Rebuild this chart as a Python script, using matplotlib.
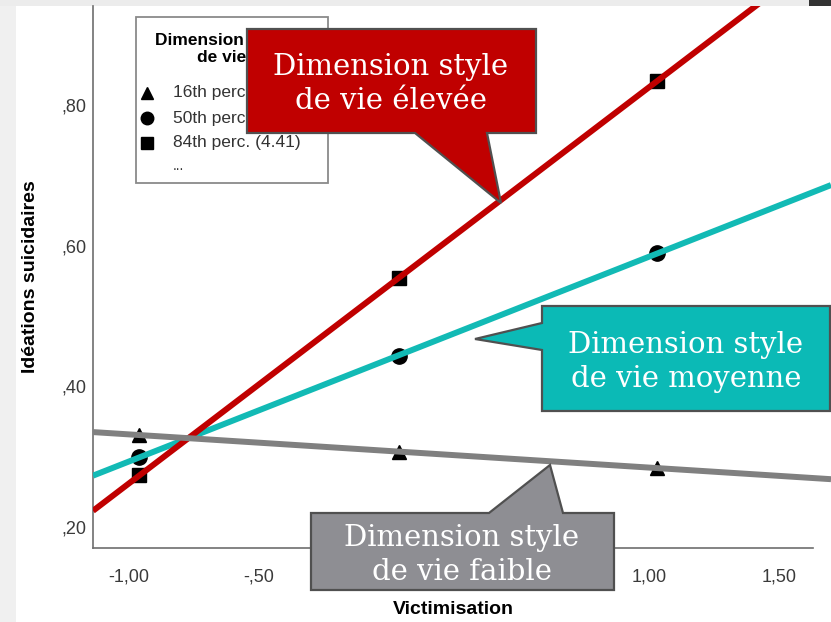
import numpy as np
import matplotlib
matplotlib.use("Agg")
import matplotlib.pyplot as plt
from matplotlib.patches import Polygon, Rectangle
from matplotlib.lines import Line2D
from matplotlib.ticker import FuncFormatter

# data (Victimisation at -1 SD, mean, +1 SD)
victim = [-0.96, 0.04, 1.03]
faible = [0.331, 0.307, 0.284]     # 16th perc.
moyenne = [0.300, 0.443, 0.590]    # 50th perc.
elevee = [0.274, 0.554, 0.835]     # 84th perc.
legend_labels = ["16th perc. (2.35)", "50th perc. (3.38)", "84th perc. (4.41)"]
x_ticks = [-1.0, -0.5, 0.0, 0.5, 1.0, 1.5]
y_ticks = [0.2, 0.4, 0.6, 0.8]

W, H = 831, 622
fig = plt.figure(figsize=(W / 100, H / 100), dpi=100)
fig.patch.set_facecolor("white")


def fx(x):
    return x / W


def fy(y):
    return 1 - y / H


def pts(seq):
    return [(fx(a), fy(b)) for a, b in seq]


ax = fig.add_axes([fx(93), fy(548), (W - 93) / W, (548 - 6) / H])
ax.patch.set_alpha(0)
ax.set_xlim(-1.1385, 1.70)
ax.set_ylim(0.1701, 0.9416)
for s in ["top", "right"]:
    ax.spines[s].set_visible(False)
for s in ["left", "bottom"]:
    ax.spines[s].set_color("#6e6e6e")
    ax.spines[s].set_linewidth(1.2)
ax.spines["bottom"].set_bounds(-1.1385, 1.631)


def fr(v, pos):
    s = "%.2f" % v
    s = s.replace("0.", ".", 1) if s.lstrip("-").startswith("0.") else s
    return s.replace(".", ",")


ax.set_xticks(x_ticks)
ax.set_yticks(y_ticks)
ax.xaxis.set_major_formatter(FuncFormatter(fr))
ax.yaxis.set_major_formatter(FuncFormatter(fr))
ax.tick_params(length=0, labelsize=13, labelcolor="#3a3a3a")
ax.tick_params(axis="x", pad=15)
ax.tick_params(axis="y", pad=5)
for lab in ax.get_xticklabels() + ax.get_yticklabels():
    lab.set_fontfamily("Liberation Sans")

# fit lines (thin black, SPSS) and the thick coloured overlays
groups = [
    (faible, "^", "#808080"),
    (moyenne, "o", "#12bab5"),
    (elevee, "s", "#c00000"),
]
xs_fit = np.array([-1.1385, 1.631])
xs_over = np.array([-1.1385, 1.70])
for yv, mk, col in groups:
    ax.plot(victim, yv, linestyle="none", marker=mk, color="black",
            markersize=10 if mk != "o" else 11, zorder=3)
    b, a = np.polyfit(victim, yv, 1)
    ax.plot(xs_fit, a + b * xs_fit, color="black", lw=0.8, zorder=2)
order = {"#12bab5": 4, "#c00000": 5, "#808080": 6}
for yv, mk, col in groups:
    b, a = np.polyfit(victim, yv, 1)
    ax.plot(xs_over, a + b * xs_over, color=col, lw=4.3, zorder=order[col],
            solid_capstyle="butt")

ax.set_xlabel("Victimisation", fontsize=14, fontweight="bold",
              family="Liberation Sans", va="center")
ax.xaxis.set_label_coords((453 - 93) / (W - 93), -(609 - 548) / (548 - 6))
ax.set_ylabel("Idéations suicidaires", fontsize=14, fontweight="bold",
              family="Liberation Sans", va="center")
ax.yaxis.set_label_coords(-(93 - 31) / (W - 93), (548 - 277) / (548 - 6))

# screenshot frame (light gray strips, behind everything)
fig.add_artist(Rectangle((0, 0), fx(16), 1, transform=fig.transFigure,
                         facecolor="#f0f0f0", edgecolor="none", zorder=-2))
fig.add_artist(Rectangle((0, fy(6)), 1, 6 / H, transform=fig.transFigure,
                         facecolor="#ececec", edgecolor="none", zorder=-2))
fig.add_artist(Rectangle((fx(809), fy(6)), 22 / W, 6 / H, transform=fig.transFigure,
                         facecolor="#333333", edgecolor="none", zorder=-1))

# SPSS legend
fig.add_artist(Rectangle((fx(136), fy(183)), (328 - 136) / W, (183 - 17) / H,
                         transform=fig.transFigure, facecolor="white",
                         edgecolor="#8a8a8a", lw=1.3, zorder=2))
fig.text(fx(222), fy(49), "Dimension style\nde vie", ha="center", va="center",
         fontsize=12.5, fontweight="bold", family="Liberation Sans",
         linespacing=1.15, color="black", zorder=3)
for i, (lab, (yv, mk, col)) in enumerate(zip(legend_labels, groups)):
    yy = 93 + 25 * i
    fig.add_artist(Line2D([fx(147)], [fy(yy)], marker=mk, color="black",
                          markersize=9, linestyle="none",
                          transform=fig.transFigure, zorder=3))
    fig.text(fx(173), fy(yy), lab, ha="left", va="center", fontsize=12.5,
             family="Liberation Sans", color="#333333", zorder=3)
fig.text(fx(173), fy(166), "...", ha="left", va="center", fontsize=10,
         family="Liberation Sans", color="#333333", zorder=3)

# callouts
callouts = [
    ([(247, 29), (536, 29), (536, 133), (487, 133), (501, 203), (415, 133), (247, 133)],
     "#c00000", (391, 84), "Dimension style\nde vie élevée"),
    ([(542, 306), (830, 306), (830, 411), (542, 411), (542, 350), (475, 339), (542, 323)],
     "#0bbab6", (686, 362), "Dimension style\nde vie moyenne"),
    ([(311, 513), (489, 513), (550, 465), (563, 513), (614, 513), (614, 590), (311, 590)],
     "#8e8e93", (462, 555), "Dimension style\nde vie faible"),
]
for verts, col, (tx, ty), txt in callouts:
    fig.add_artist(Polygon(pts(verts), closed=True, transform=fig.transFigure,
                           facecolor=col, edgecolor="#505050", lw=1.6,
                           joinstyle="miter", zorder=7))
    fig.text(fx(tx), fy(ty), txt, ha="center", va="center", fontsize=21,
             family="DejaVu Serif", color="white", linespacing=1.3, zorder=8)

fig.savefig("out.png", dpi=100)
